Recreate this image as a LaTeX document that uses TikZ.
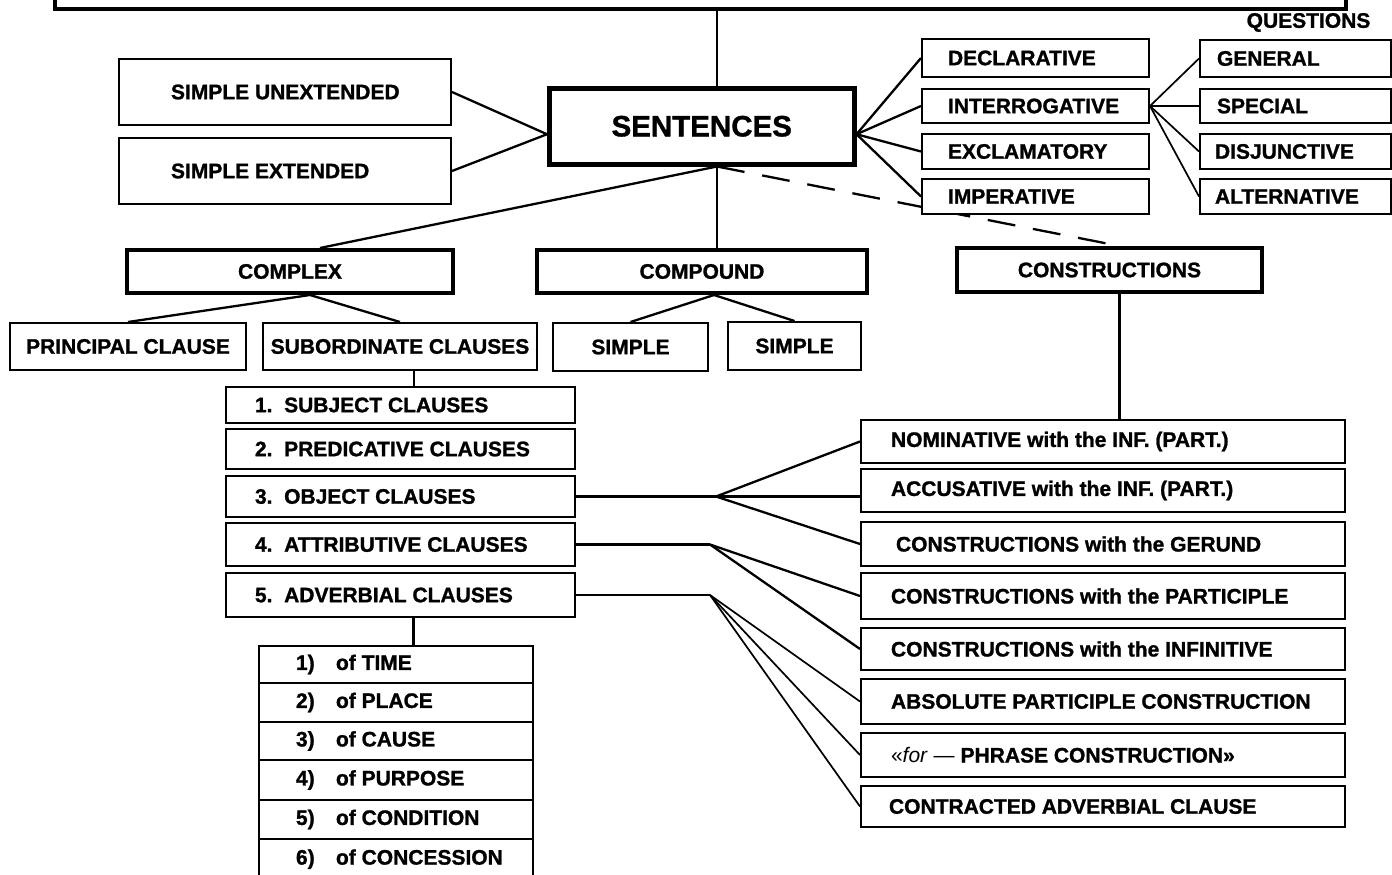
\documentclass[tikz,border=0pt]{standalone}
\usepackage{fontspec}
\setmainfont{Liberation Sans}[BoldFeatures={FakeBold=1.2}]
\usetikzlibrary{backgrounds,calc}
\newcommand\lab{\bfseries\fontsize{21}{24}\selectfont}
\newcommand\lbx[3]{\makebox[#1pt][l]{\hspace*{#2pt}#3}}
\newcommand\itm[2]{\makebox[40pt][l]{#1}#2}
\begin{document}
\begin{tikzpicture}[x=1pt,y=-1pt,
  bx/.style={draw, fill=white, line width=2pt, inner sep=0pt, anchor=north west, font=\lab, align=center},
  tk/.style={line width=4pt},
  ln/.style={line width=2.3pt},
  thinln/.style={line width=1.7pt},
  dashln/.style={line width=2.3pt, dash pattern=on 28pt off 18pt}]
\useasboundingbox (0,0) rectangle (1392,875);
\clip (0,0) rectangle (1392,875);
% top (cut off) box
\node[bx, tk, minimum width=1291pt, minimum height=50pt] (top) at (53,-43) {};
% sentences
\node[bx, line width=4.5pt, minimum width=305pt, minimum height=76pt, font=\bfseries\fontsize{29.5}{32}\selectfont] (sent) at (547,86) {SENTENCES};
% simple
\node[bx, minimum width=332pt, minimum height=66pt] (su) at (118,58) {\lbx{332}{52}{SIMPLE UNEXTENDED}};
\node[bx, minimum width=332pt, minimum height=66pt] (sx) at (118,137) {\lbx{332}{52}{SIMPLE EXTENDED}};
% kinds
\node[bx, minimum height=38pt] (decl) at (921,38) {\lbx{227}{26}{DECLARATIVE}};
\node[bx, minimum height=34pt] (intr) at (921,88) {\lbx{227}{26}{INTERROGATIVE}};
\node[bx, minimum height=35pt] (excl) at (921,133) {\lbx{227}{26}{EXCLAMATORY}};
% questions
\node[font=\lab] (q) at (1308.5,22.5) {QUESTIONS};
\node[bx, minimum height=37pt] (gen) at (1199,39) {\lbx{191}{17}{GENERAL}};
\node[bx, minimum height=34pt] (spec) at (1199,88) {\lbx{191}{17}{SPECIAL}};
\node[bx, minimum height=35pt] (disj) at (1199,133) {\lbx{191}{15}{DISJUNCTIVE}};
\node[bx, minimum height=35pt] (alt) at (1199,178) {\lbx{191}{15}{ALTERNATIVE}};
% second row
\node[bx, tk, minimum width=326pt, minimum height=43pt] (cplx) at (125,248) {COMPLEX};
\node[bx, tk, minimum width=330pt, minimum height=43pt] (cpd) at (535,248) {COMPOUND};
\node[bx, tk, minimum width=305pt, minimum height=44pt] (cons) at (955,246) {CONSTRUCTIONS};
% third row
\node[bx, minimum width=236pt, minimum height=47pt] (prin) at (9,322) {PRINCIPAL CLAUSE};
\node[bx, minimum width=274pt, minimum height=47pt] (sub) at (262,322) {SUBORDINATE CLAUSES};
\node[bx, minimum width=155pt, minimum height=48pt] (s1) at (552,322) {SIMPLE};
\node[bx, minimum width=133pt, minimum height=48pt] (s2) at (727,321) {SIMPLE};
% clauses
\node[bx, minimum height=36pt] (c1) at (225,386) {\lbx{349}{29}{1.\ \ SUBJECT CLAUSES}};
\node[bx, minimum height=40pt] (c2) at (225,428) {\lbx{349}{29}{2.\ \ PREDICATIVE CLAUSES}};
\node[bx, minimum height=41pt] (c3) at (225,475) {\lbx{349}{29}{3.\ \ OBJECT CLAUSES}};
\node[bx, minimum height=43pt] (c4) at (225,522) {\lbx{349}{29}{4.\ \ ATTRIBUTIVE CLAUSES}};
\node[bx, minimum height=44pt] (c5) at (225,572) {\lbx{349}{29}{5.\ \ ADVERBIAL CLAUSES}};
% constructions
\node[bx, minimum height=43pt] (nom) at (860,419) {\lbx{484}{30}{NOMINATIVE with the INF. (PART.)}};
\node[bx, minimum height=43pt] (acc) at (860,468) {\lbx{484}{30}{ACCUSATIVE with the INF. (PART.)}};
\node[bx, minimum height=44pt] (ger) at (860,521) {\lbx{484}{35}{CONSTRUCTIONS with the GERUND}};
\node[bx, minimum height=46pt] (par) at (860,572) {\lbx{484}{30}{CONSTRUCTIONS with the PARTICIPLE}};
\node[bx, minimum height=42pt] (inf) at (860,627) {\lbx{484}{30}{CONSTRUCTIONS with the INFINITIVE}};
\node[bx, minimum height=45pt] (abs) at (860,678) {\lbx{484}{30}{ABSOLUTE PARTICIPLE CONSTRUCTION}};
\node[bx, minimum height=44pt] (forp) at (860,732) {\lbx{484}{30}{\mdseries«\textit{for} —\bfseries\ PHRASE CONSTRUCTION»}};
\node[bx, minimum height=41pt] (con) at (860,785) {\lbx{484}{28}{CONTRACTED ADVERBIAL CLAUSE}};
% adverbial list
\node[bx, minimum height=37pt] (l1) at (258,645) {\lbx{274}{37}{\itm{1)}{of TIME}}};
\node[bx, minimum height=39pt] (l2) at (258,682) {\lbx{274}{37}{\itm{2)}{of PLACE}}};
\node[bx, minimum height=38pt] (l3) at (258,721) {\lbx{274}{37}{\itm{3)}{of CAUSE}}};
\node[bx, minimum height=40pt] (l4) at (258,759) {\lbx{274}{37}{\itm{4)}{of PURPOSE}}};
\node[bx, minimum height=39pt] (l5) at (258,799) {\lbx{274}{37}{\itm{5)}{of CONDITION}}};
\node[bx, minimum height=60pt, text depth=24pt] (l6) at (258,838) {\lbx{274}{37}{\itm{6)}{of CONCESSION}}};
% dashed line behind IMPERATIVE
\coordinate (tc) at (717,7);
\coordinate (sb) at (tc |- sent.south);
\begin{pgfonlayer}{background}
\draw[dashln] (sb) -- ([xshift=10pt]cons.north);
\end{pgfonlayer}
\node[bx, minimum height=35pt] (imp) at (921,178) {\lbx{227}{26}{IMPERATIVE}};
% connectors
\draw[ln] (tc) -- (tc |- sent.north);
\draw[ln] (sb) -- (sb |- cpd.north);
\draw[ln] (sb) -- ([xshift=30pt]cplx.north);
\coordinate (sw) at ([yshift=-8pt]sent.west);
\coordinate (se) at ([yshift=-8pt]sent.east);
\draw[ln] (su.east) -- (sw) -- (sx.east);
\foreach \n in {decl,intr,excl,imp} \draw[ln] (se) -- (\n.west);
\foreach \n in {gen,spec,disj,alt} \draw[thinln] (intr.east) -- (\n.west);
\coordinate (ca) at ([xshift=20pt]cplx.south);
\draw[ln] (prin.north) -- (ca) -- (sub.north);
\coordinate (pa) at ([xshift=12pt]cpd.south);
\draw[ln] (s1.north) -- (pa) -- (s2.north);
\coordinate (sbt) at ([xshift=14pt]sub.south);
\draw[ln] (sbt) -- (sbt |- c1.north);
\coordinate (cbt) at ([xshift=10pt]cons.south);
\draw[ln] (cbt) -- (cbt |- nom.north);
\coordinate (c5b) at ([xshift=13pt]c5.south);
\draw[ln] (c5b) -- (c5b |- l1.north);
\coordinate (a3) at ([xshift=140pt]c3.east);
\draw[ln] (c3.east) -- (a3);
\draw[ln] (a3) -- (nom.west);
\draw[ln] (a3) -- (a3 -| acc.west);
\draw[ln] (a3) -- (ger.west);
\coordinate (a4) at ([xshift=134pt]c4.east);
\draw[ln] (c4.east) -- (a4);
\draw[ln] (a4) -- (par.west);
\draw[ln] (a4) -- (inf.west);
\coordinate (a5) at ([xshift=134pt]c5.east);
\draw[ln] (c5.east) -- (a5);
\foreach \n in {abs,forp,con} \draw[thinln] (a5) -- (\n.west);
\end{tikzpicture}
\end{document}
